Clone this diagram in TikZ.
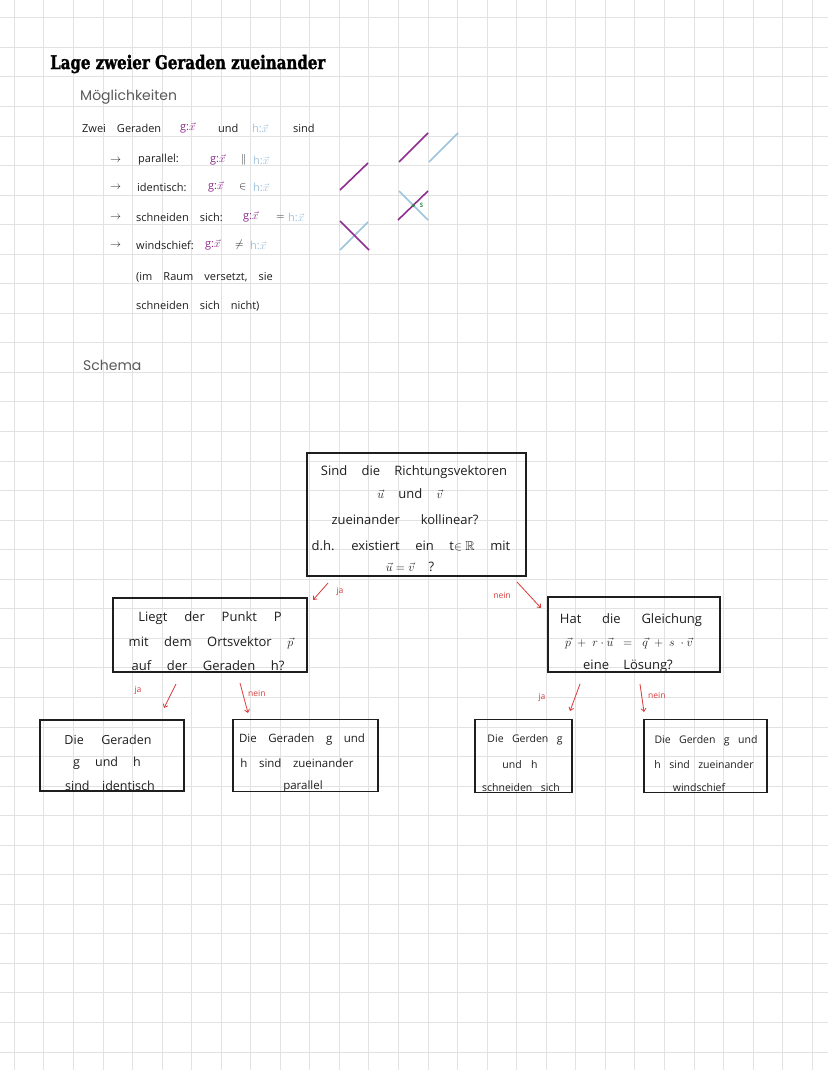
\documentclass[tikz,border=0pt]{standalone}
\usepackage{amssymb}
\usepackage{fontspec}
\setmainfont{Open Sans}
\newfontfamily\titlefont{DejaVu Serif}[BoldFeatures={FakeBold=1.6}]
\newfontfamily\thinfont{Poppins}
\usetikzlibrary{arrows.meta}
\definecolor{gridc}{HTML}{E2E2E2}
\definecolor{gmag}{HTML}{8E2E8E}
\definecolor{hblue}{HTML}{9EC3DE}
\definecolor{redc}{HTML}{D93A3A}
\definecolor{sgreen}{HTML}{2E8B3E}
\definecolor{inkc}{HTML}{1E1E1E}
\newcommand\widesp[1]{\spaceskip=#1em plus 0.1em\relax}
\begin{document}
\begin{tikzpicture}[x=1pt,y=-1pt,
  lst/.style={font=\fontsize{11}{12}\selectfont, execute at begin node={\widesp{1.0}}, inner sep=0pt, anchor=west, text=inkc},
  bx/.style={draw=inkc, line width=1.2pt, inner sep=0pt},
  btxt/.style 2 args={inner sep=0pt, text=inkc, font=\fontsize{#1}{#1}\selectfont, execute at begin node={\widesp{#2}}},
  lab/.style={text=redc, font=\fontsize{8.5}{8.5}\selectfont, inner sep=0pt},
  arr/.style={draw=redc, line width=0.8pt, -{Straight Barb[length=3pt,width=5pt]}},
  gl/.style={line width=1.6pt, draw=gmag},
  hl/.style={line width=1.6pt, draw=hblue}]
\fill[white] (0,0) rectangle (828,1070);
\useasboundingbox (0,0) rectangle (828,1070);
% grid
\foreach \i in {0,...,27} \draw[gridc, line width=0.7pt] ({14.2+29.55*\i},0) -- ({14.2+29.55*\i},1070);
\foreach \j in {0,...,35} \draw[gridc, line width=0.7pt] (0,{17.65+29.55*\j}) -- (828,{17.65+29.55*\j});

% title
\node[anchor=west, inner sep=0pt, font=\titlefont\bfseries\fontsize{15}{15}\selectfont] (title) at (50,64) {\scalebox{1.0}[1.25]{Lage zweier Geraden zueinander}};
\node[anchor=west, inner sep=0pt, text=black!65, font=\thinfont\fontsize{14}{14}\selectfont] (moegl) at (80,97) {Möglichkeiten};

% list
\node[lst] (l1a) at (82,128) {Zwei Geraden};
\node[lst, text=gmag] (l1b) at (180,128) {g:$\vec{x}$};
\node[lst] (l1c) at (218,128) {und};
\node[lst, text=hblue] (l1d) at (252,128) {h:$\vec{x}$};
\node[lst] (l1e) at (293,128) {sind};

\node[lst] (l2a) at (110,160) {$\rightarrow$};
\node[lst] (l2b) at (138,160) {parallel:};
\node[lst, text=gmag] (l2c) at (210,160) {g:$\vec{x}$};
\node[lst] (l2d) at (241,160) {$\parallel$};
\node[lst, text=hblue] (l2e) at (253,160) {h:$\vec{x}$};

\node[lst] (l3a) at (110,187) {$\rightarrow$};
\node[lst] (l3b) at (137,187) {identisch:};
\node[lst, text=gmag] (l3c) at (208,187) {g:$\vec{x}$};
\node[lst] (l3d) at (239,187) {$\in$};
\node[lst, text=hblue] (l3e) at (253,187) {h:$\vec{x}$};

\node[lst] (l4a) at (110,217) {$\rightarrow$};
\node[lst] (l4b) at (136,217) {schneiden sich:};
\node[lst, text=gmag] (l4c) at (243,217) {g:$\vec{x}$};
\node[lst] (l4d) at (276,217) {$=$};
\node[lst, text=hblue] (l4e) at (288,217) {h:$\vec{x}$};

\node[lst] (l5a) at (110,245) {$\rightarrow$};
\node[lst] (l5b) at (136,245) {windschief:};
\node[lst, text=gmag] (l5c) at (205,245) {g:$\vec{x}$};
\node[lst] (l5d) at (235,245) {$\neq$};
\node[lst, text=hblue] (l5e) at (250,245) {h:$\vec{x}$};

\node[lst] (l6) at (136,277) {(im Raum versetzt, sie};
\node[lst] (l7) at (136,306) {schneiden sich nicht)};

% illustrations
\draw[gl] (399,162) -- (428,133);
\draw[hl] (429,162) -- (458,133);
\draw[gl] (340,190) -- (368,163);
\draw[hl] (399,191) -- (428,220);
\draw[gl] (398,220) -- (428,191);
\fill[sgreen] (413.3,205.5) circle (1.8);
\node[inner sep=0pt, text=sgreen, font=\fontsize{6}{6}\selectfont\bfseries] (slab) at (421.5,205) {S};
\draw[hl] (340,250) -- (368,222);
\draw[gl] (340,221) -- (369,250);

\node[anchor=west, inner sep=0pt, text=black!65, font=\thinfont\fontsize{14}{14}\selectfont] (schema) at (83,365) {Schema};

% boxes
\node[bx, minimum width=219pt, minimum height=123pt] (q1) at (416.5,514.5) {};
\node[btxt={13}{1.1}] (q1a) at (414,472) {Sind die Richtungsvektoren};
\node[btxt={13}{1.1}] (q1b) at (410,494) {$\vec{u}$ und $\vec{v}$};
\node[btxt={13}{1.6}] (q1c) at (405,520) {zueinander kollinear?};
\node[btxt={13}{1.2}] (q1d) at (411,546) {d.h. existiert ein t$\in\mathbb{R}$ mit};
\node[btxt={13}{1.1}] (q1e) at (410,567) {$\vec{u}=\vec{v}$ ?};

\node[bx, minimum width=194pt, minimum height=74pt] (q2) at (210,635) {};
\node[btxt={13}{1.3}] (q2a) at (210,618) {Liegt der Punkt P};
\node[btxt={13}{1.2}] (q2b) at (211,643) {mit dem Ortsvektor $\vec{p}$};
\node[btxt={13}{1.2}] (q2c) at (208,666) {auf der Geraden h?};

\node[bx, minimum width=172pt, minimum height=75pt] (q3) at (634,634.5) {};
\node[btxt={13}{1.6}] (q3a) at (631,620) {Hat die Gleichung};
\node[btxt={13}{1.1}] (q3b) at (629,643.5) {$\vec{p}\;+\;r\cdot\vec{u}\;\;=\;\;\vec{q}\;+\;s\;\cdot\vec{v}$};
\node[btxt={13}{1.1}] (q3c) at (628,666.5) {eine Lösung?};

\node[bx, minimum width=144pt, minimum height=71pt] (ra) at (112,755.5) {};
\node[btxt={12.5}{1.4}] (raa) at (108,740) {Die Geraden};
\node[btxt={12.5}{1.2}] (rab) at (107,763) {g und h};
\node[btxt={12.5}{1.0}] (rac) at (110,786) {sind identisch};

\node[bx, minimum width=145pt, minimum height=72pt] (rb) at (305.5,755.5) {};
\node[btxt={11.5}{1.0}] (rba) at (302,740) {Die Geraden g und};
\node[btxt={11.5}{1.0}] (rbb) at (297,763) {h sind zueinander};
\node[btxt={11.5}{1.0}] (rbc) at (303,787) {parallel};

\node[bx, minimum width=97pt, minimum height=73pt] (rc) at (523.5,756) {};
\node[btxt={10.5}{0.8}] (rca) at (525,740) {Die Gerden g};
\node[btxt={10.5}{0.9}] (rcb) at (520,765) {und h};
\node[btxt={10.5}{0.8}] (rcc) at (521,788) {schneiden sich};

\node[bx, minimum width=123pt, minimum height=73pt] (rd) at (705.5,756) {};
\node[btxt={10.5}{0.8}] (rda) at (706,741) {Die Gerden g und};
\node[btxt={10.5}{0.8}] (rdb) at (704,765) {h sind zueinander};
\node[btxt={10.5}{0.8}] (rdc) at (699,788) {windschief};

% arrows and labels
\coordinate (a1s) at (328,583); \coordinate (a1e) at (313,600);
\draw[arr] (a1s) -- (a1e);
\node[lab] (ja1) at (340,591) {ja};
\coordinate (a2s) at (517,582); \coordinate (a2e) at (541,608);
\draw[arr] (a2s) -- (a2e);
\node[lab] (nein1) at (502,595) {nein};

\coordinate (a3s) at (176,684); \coordinate (a3e) at (164,708);
\draw[arr] (a3s) -- (a3e);
\node[lab] (ja2) at (138,690) {ja};
\coordinate (a4s) at (240,683); \coordinate (a4e) at (248,713);
\draw[arr] (a4s) -- (a4e);
\node[lab, anchor=west] (nein2) at (248,693) {nein};

\coordinate (a5s) at (580,684); \coordinate (a5e) at (570,711);
\draw[arr] (a5s) -- (a5e);
\node[lab] (ja3) at (542,697) {ja};
\coordinate (a6s) at (640,684); \coordinate (a6e) at (644,712);
\draw[arr] (a6s) -- (a6e);
\node[lab, anchor=west] (nein3) at (648,695) {nein};
\end{tikzpicture}
\end{document}
